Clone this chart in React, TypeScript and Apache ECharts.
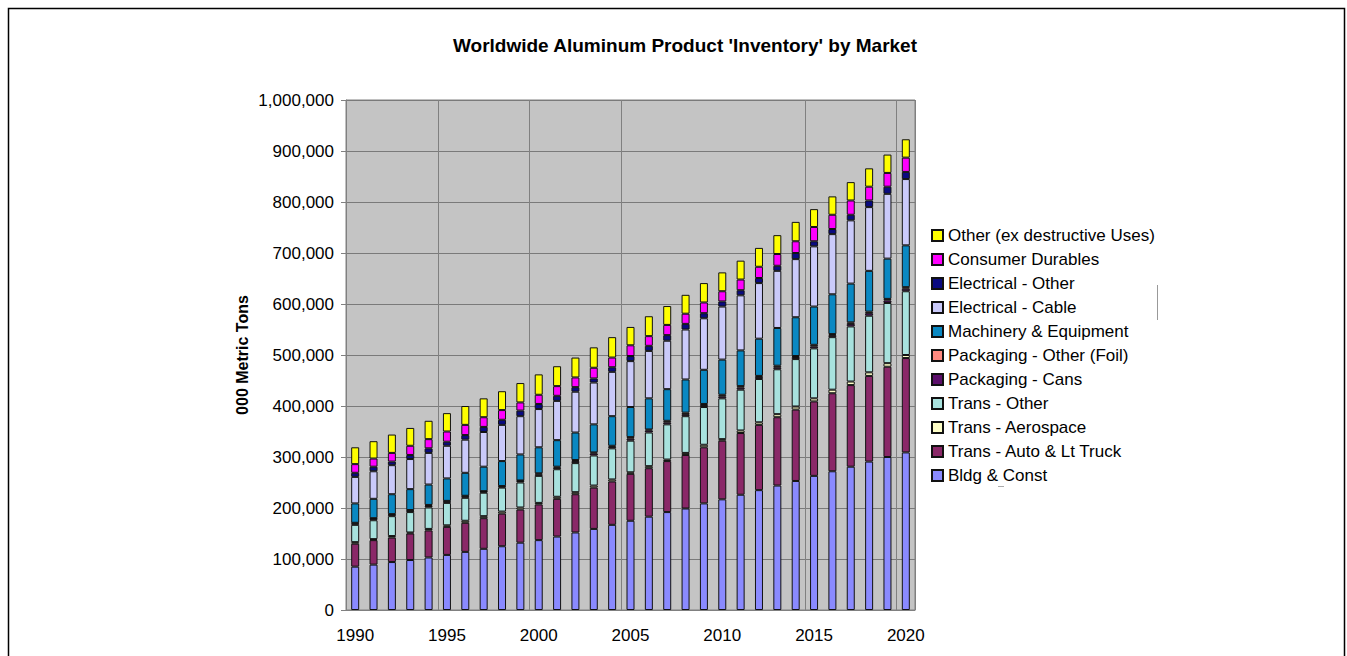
import { useEffect, useRef } from 'react';
import * as echarts from 'echarts';

// Years on the category axis
const years = [
  '1990', '1991', '1992', '1993', '1994', '1995', '1996', '1997', '1998', '1999',
  '2000', '2001', '2002', '2003', '2004', '2005', '2006', '2007', '2008', '2009',
  '2010', '2011', '2012', '2013', '2014', '2015', '2016', '2017', '2018', '2019', '2020',
];

// Stock by market, 000 metric tons
const bldgConst = [85000, 89000, 94000, 98000, 103000, 108000, 114000, 120000, 125000, 132000, 137000, 144000, 152000, 159000, 167000, 175000, 183000, 192000, 199000, 209000, 217000, 226000, 235000, 244000, 253000, 263000, 272000, 281000, 291000, 300000, 309000];
const transAuto = [45000, 48000, 48000, 52000, 53000, 55000, 57000, 60000, 64000, 65000, 70000, 74000, 75000, 81000, 85000, 92000, 95000, 100000, 105000, 110000, 115000, 121000, 128000, 134000, 140000, 146000, 153000, 160000, 168000, 177000, 185000];
const transAero = [3000, 2000, 3000, 2000, 3000, 3000, 4000, 4000, 4000, 4000, 3000, 4000, 4000, 4000, 4000, 3000, 4000, 3000, 4000, 5000, 3000, 5000, 5000, 6000, 6000, 6000, 7000, 7000, 7000, 7000, 6000];
const transOther = [34000, 37000, 39000, 40000, 42000, 44000, 45000, 46000, 47000, 49000, 53000, 54000, 57000, 59000, 61000, 62000, 66000, 69000, 72000, 74000, 80000, 80000, 85000, 88000, 93000, 98000, 103000, 108000, 111000, 118000, 125000];
const packCans = [3000, 3000, 3000, 3000, 3000, 3000, 3000, 2000, 2000, 3000, 3000, 3000, 4000, 4000, 3000, 4000, 4000, 4000, 4000, 4000, 4000, 4000, 4000, 4000, 4000, 4000, 4000, 5000, 5000, 5000, 5000];
const packFoil = [1000, 1000, 1000, 1000, 2000, 1000, 1000, 1000, 1000, 1000, 2000, 2000, 2000, 2000, 2000, 3000, 2000, 3000, 3000, 2000, 3000, 3000, 2000, 3000, 2000, 3000, 2000, 3000, 3000, 3000, 3000];
const machinery = [38000, 38000, 39000, 41000, 40000, 44000, 45000, 48000, 49000, 51000, 51000, 52000, 54000, 55000, 58000, 59000, 61000, 62000, 65000, 67000, 69000, 70000, 73000, 74000, 76000, 75000, 78000, 76000, 80000, 79000, 82000];
const elecCable = [52000, 54000, 57000, 59000, 62000, 64000, 65000, 68000, 71000, 75000, 75000, 77000, 80000, 82000, 87000, 90000, 93000, 95000, 98000, 101000, 104000, 108000, 109000, 112000, 114000, 118000, 118000, 124000, 125000, 127000, 130000];
const elecOther = [8000, 9000, 7000, 8000, 9000, 8000, 9000, 10000, 10000, 11000, 10000, 10000, 9000, 8000, 9000, 10000, 10000, 11000, 11000, 10000, 10000, 10000, 10000, 10000, 12000, 10000, 10000, 11000, 13000, 14000, 14000];
const consumerDurables = [17000, 16000, 17000, 18000, 18000, 20000, 20000, 19000, 19000, 16000, 18000, 19000, 19000, 21000, 19000, 21000, 19000, 20000, 20000, 21000, 20000, 21000, 22000, 23000, 23000, 28000, 28000, 28000, 27000, 27000, 28000];
const otherUses = [33000, 34000, 36000, 35000, 36000, 36000, 37000, 37000, 37000, 38000, 40000, 39000, 39000, 40000, 40000, 36000, 39000, 37000, 37000, 38000, 37000, 37000, 37000, 37000, 38000, 35000, 36000, 36000, 36000, 36000, 36000];

// Value-axis ticks
const yMin = 0;
const yMax = 1000000;
const yStep = 100000;

const FONT = 'Arial, "Liberation Sans", Helvetica, sans-serif';

const seriesDefs = [
  { name: 'Bldg & Const', data: bldgConst, color: '#8a8aff' },
  { name: 'Trans - Auto & Lt Truck', data: transAuto, color: '#8a2868' },
  { name: 'Trans - Aerospace', data: transAero, color: '#ffffc8' },
  { name: 'Trans - Other', data: transOther, color: '#a8e2de' },
  { name: 'Packaging - Cans', data: packCans, color: '#5c0f6b' },
  { name: 'Packaging - Other (Foil)', data: packFoil, color: '#ff8a80' },
  { name: 'Machinery & Equipment', data: machinery, color: '#0a88c2' },
  { name: 'Electrical - Cable', data: elecCable, color: '#cacafa' },
  { name: 'Electrical - Other', data: elecOther, color: '#0a0a80' },
  { name: 'Consumer Durables', data: consumerDurables, color: '#ff00ff' },
  { name: 'Other (ex destructive Uses)', data: otherUses, color: '#ffff00' },
];

// Vertical grid every five years (the 2010 divider is absent)
const dividerAt = (i: number) => i % 5 === 0 && i !== 20;

export default function App() {
  const ref = useRef<HTMLDivElement>(null);

  useEffect(() => {
    document.body.style.margin = '0';
    const chart = echarts.init(ref.current!, null, { renderer: 'svg' });
    chart.setOption({
      animation: false,
      backgroundColor: '#ffffff',
      textStyle: { fontFamily: FONT },
      grid: {
        left: 346,
        right: 432,
        top: 100,
        bottom: 46,
        show: true,
        backgroundColor: '#c4c4c4',
        borderColor: '#808080',
        borderWidth: 1,
      },
      legend: {
        orient: 'vertical',
        left: 926,
        top: 222,
        itemWidth: 11,
        itemHeight: 11,
        itemGap: 7,
        icon: 'rect',
        data: seriesDefs.map((s) => s.name).reverse(),
        textStyle: { fontFamily: FONT, fontSize: 17, color: '#000', lineHeight: 16 },
      },
      xAxis: {
        type: 'category',
        data: years,
        boundaryGap: true,
        axisLine: { lineStyle: { color: '#808080', width: 1 } },
        axisTick: {
          interval: (i: number) => dividerAt(i),
          length: 6,
          lineStyle: { color: '#808080' },
        },
        splitLine: {
          show: true,
          interval: (i: number) => dividerAt(i),
          lineStyle: { color: '#808080', width: 1 },
        },
        axisLabel: {
          interval: (i: number) => i % 5 === 0,
          margin: 17,
          fontSize: 17,
          color: '#000',
          fontFamily: FONT,
        },
      },
      yAxis: {
        type: 'value',
        min: yMin,
        max: yMax,
        interval: yStep,
        name: '000 Metric Tons',
        nameLocation: 'middle',
        nameGap: 96,
        nameTextStyle: { fontFamily: FONT, fontSize: 16, fontWeight: 'bold', color: '#000' },
        axisLine: { show: true, lineStyle: { color: '#808080', width: 1 } },
        axisTick: { show: true, length: 5, lineStyle: { color: '#808080' } },
        splitLine: { show: true, lineStyle: { color: '#7a7a7a', width: 1 } },
        axisLabel: {
          margin: 12,
          fontSize: 17,
          color: '#000',
          fontFamily: FONT,
          formatter: (v: number) => v.toLocaleString('en-US'),
        },
      },
      series: seriesDefs.map((s) => ({
        name: s.name,
        type: 'bar',
        stack: 'total',
        data: s.data,
        barWidth: 8,
        itemStyle: { color: s.color, borderColor: '#111', borderWidth: 1 },
        emphasis: { disabled: true },
      })),
      graphic: [
        {
          type: 'rect',
          shape: { x: 8.5, y: 8.5, width: 1336, height: 700 },
          style: { fill: 'none', stroke: '#000', lineWidth: 1.5 },
          silent: true,
        },
        {
          type: 'text',
          x: 685,
          y: 45,
          style: {
            text: "Worldwide Aluminum Product 'Inventory' by Market",
            font: `bold 19px ${FONT}`,
            fill: '#000',
            align: 'center',
            verticalAlign: 'middle',
          },
          silent: true,
        },
        {
          type: 'line',
          shape: { x1: 1157.5, y1: 285, x2: 1157.5, y2: 320 },
          style: { stroke: '#999', lineWidth: 1 },
          silent: true,
        },
        {
          type: 'line',
          shape: { x1: 998, y1: 486.5, x2: 1004, y2: 486.5 },
          style: { stroke: '#aaa', lineWidth: 1 },
          silent: true,
        },
      ],
    });
    return () => chart.dispose();
  }, []);

  return <div ref={ref} style={{ width: 1347, height: 656 }} />;
}
